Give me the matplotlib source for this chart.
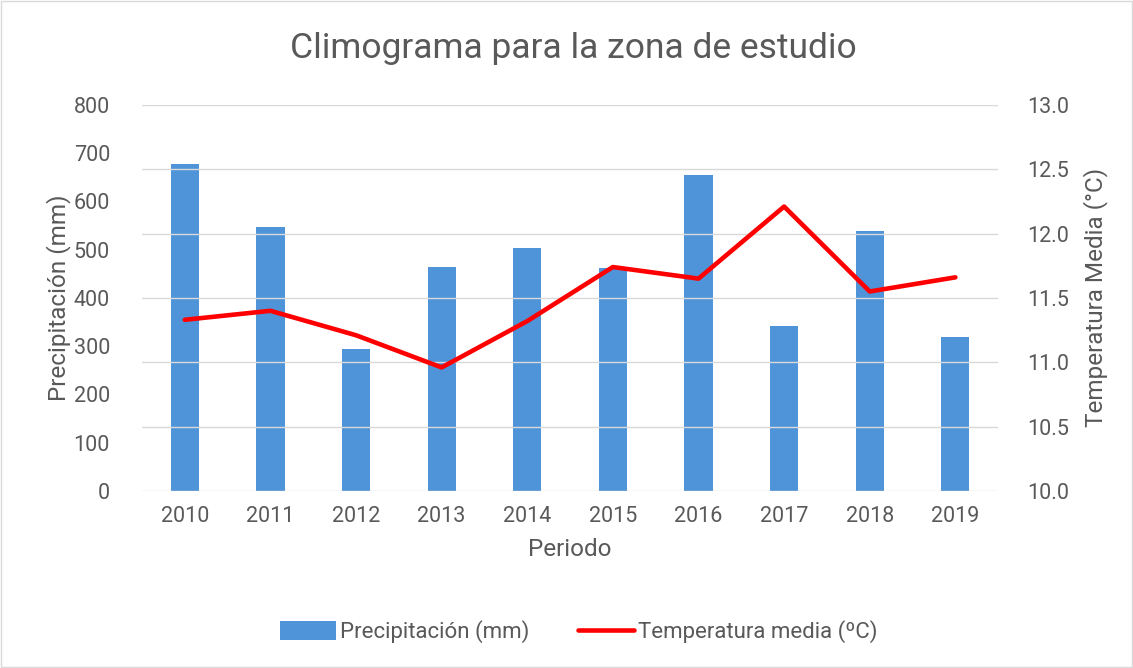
import matplotlib.pyplot as plt
import numpy as np
from matplotlib.patches import Rectangle

years = ['2010', '2011', '2012', '2013', '2014', '2015', '2016', '2017', '2018', '2019']
precip = [677, 547, 294, 464, 504, 462, 655, 342, 539, 319]
temp = [11.33, 11.40, 11.21, 10.96, 11.32, 11.74, 11.65, 12.21, 11.55, 11.66]

txt = '#595959'
plt.rcParams['font.family'] = ['Roboto', 'DejaVu Sans']

fig = plt.figure(figsize=(11.33, 6.68), dpi=100)
fig.patches.append(Rectangle((0.001, 0.001), 0.998, 0.998, transform=fig.transFigure,
                             fill=False, edgecolor='#d9d9d9', linewidth=1))
ax = fig.add_axes([0.1253, 0.265, 0.7557, 0.578])
ax2 = ax.twinx()

x = np.arange(len(years))
bars = ax.bar(x, precip, width=0.33, color='#4f94d9', label='Precipitación (mm)', zorder=2)
line, = ax2.plot(x, temp, color='#ff0000', linewidth=3.3, label='Temperatura media (ºC)',
                 solid_capstyle='round', zorder=3)

ax.set_xlim(-0.5, len(years) - 0.5)
ax.set_ylim(0, 800)
ax.set_yticks(range(0, 801, 100))
ax2.set_ylim(10, 13)
ax2.set_yticks(np.arange(10, 13.01, 0.5))
ax2.set_yticklabels([f'{v:.1f}' for v in np.arange(10, 13.01, 0.5)])

# gridlines follow the right axis
for v in np.arange(10, 13.01, 0.5):
    ax2.axhline(v, color='#d9d9d9', linewidth=1, zorder=0)
ax2.patch.set_visible(False)

ax.set_xticks(x)
ax.set_xticklabels(years)
for a in (ax, ax2):
    for s in a.spines.values():
        s.set_visible(False)
    a.tick_params(colors=txt, labelsize=15.5, length=0)
ax.tick_params(axis='y', pad=23)
ax.tick_params(axis='x', pad=11)
ax2.tick_params(axis='y', pad=21)

ax.set_xlabel('Periodo', color=txt, fontsize=17.5, labelpad=8)
ax.set_ylabel('Precipitación (mm)', color=txt, fontsize=17.5, labelpad=2)
ax2.set_ylabel('Temperatura Media (°C)', color=txt, fontsize=17.5, labelpad=10)

fig.text(0.506, 0.928, 'Climograma para la zona de estudio', ha='center', va='center',
         color=txt, fontsize=25.5)

fig.legend(handles=[bars, line], loc='center', bbox_to_anchor=(0.511, 0.054), ncol=2,
           frameon=False, fontsize=16, labelcolor=txt, handlelength=2.5, handleheight=0.9,
           handletextpad=0.2, columnspacing=2.2)

fig.savefig('out.png', dpi=100)
